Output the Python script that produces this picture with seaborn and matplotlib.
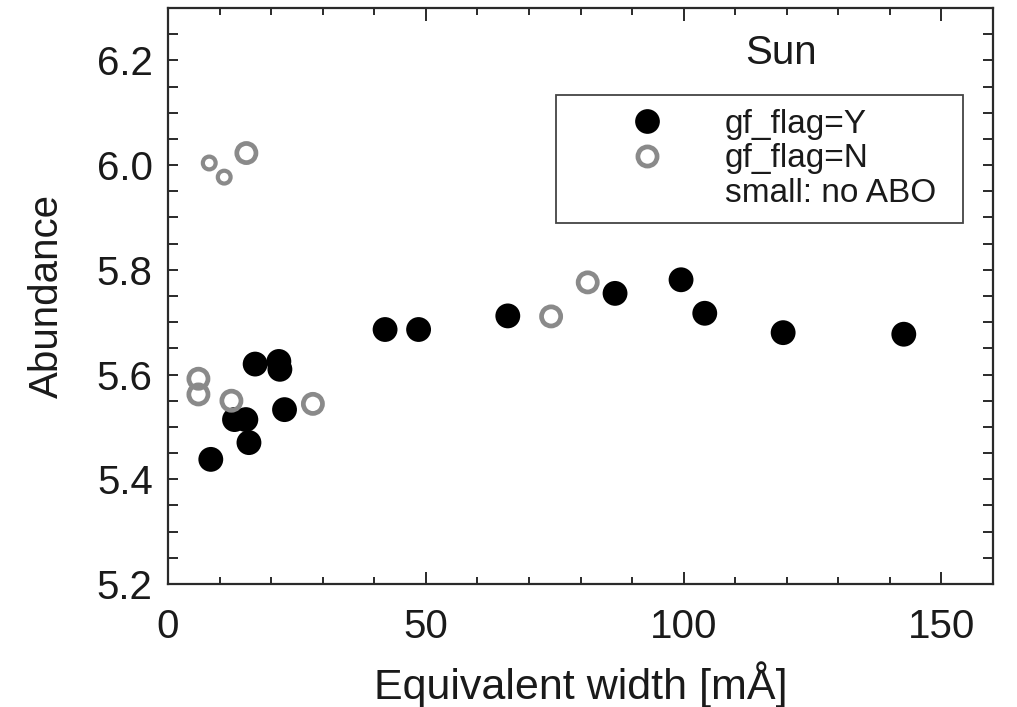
import numpy as np
import pandas as pd
import matplotlib
matplotlib.use("Agg")
import matplotlib.pyplot as plt
from matplotlib.lines import Line2D
import seaborn as sns

# Equivalent widths [mA] and abundances of the solar lines
ew_good = [8.3, 12.9, 15.1, 15.7, 16.9, 21.5, 21.7, 22.6, 42.1, 48.6, 65.9,
           86.7, 99.5, 104.1, 119.3, 142.7]
ab_good = [5.438, 5.514, 5.514, 5.470, 5.620, 5.625, 5.610, 5.533, 5.686,
           5.686, 5.712, 5.755, 5.781, 5.717, 5.680, 5.677]

ew_bad = [5.9, 5.9, 12.3, 28.1, 15.2, 74.3, 81.4]
ab_bad = [5.592, 5.562, 5.550, 5.544, 6.023, 5.711, 5.776]

# lines without ABO broadening (drawn with small symbols)
ew_noabo = [8.0, 10.9]
ab_noabo = [6.004, 5.977]

x_ticks = [0, 50, 100, 150]
y_ticks = [5.2, 5.4, 5.6, 5.8, 6.0, 6.2]
legend_labels = ["gf_flag=Y", "gf_flag=N", "small: no ABO"]
star_name = "Sun"

GRAY = "#8a8a8a"
AXC = "#2a2a2a"
TXT = "#1a1a1a"

df_good = pd.DataFrame({"ew": ew_good, "abund": ab_good})
df_bad = pd.DataFrame({"ew": ew_bad, "abund": ab_bad})
df_noabo = pd.DataFrame({"ew": ew_noabo, "abund": ab_noabo})

sns.set_style("white")
plt.rcParams["font.family"] = ["Liberation Sans", "DejaVu Sans"]

fig = plt.figure(figsize=(10.17, 7.07), dpi=100)
ax = fig.add_axes([168 / 1017, 123 / 707, 825 / 1017, 576 / 707])

sns.scatterplot(data=df_good, x="ew", y="abund", ax=ax, color="black",
                s=320, edgecolor="none", linewidth=0, zorder=3)
sns.scatterplot(data=df_bad, x="ew", y="abund", ax=ax, fc="none", ec=GRAY,
                s=190, linewidth=3.4, zorder=3)
sns.scatterplot(data=df_noabo, x="ew", y="abund", ax=ax, fc="none", ec=GRAY,
                s=85, linewidth=3.0, zorder=3)

ax.set_xlim(0, 160)
ax.set_ylim(5.2, 6.3)
ax.set_xticks(x_ticks)
ax.set_yticks(y_ticks)
ax.set_yticklabels([f"{v:.1f}" for v in y_ticks])
ax.set_xticks(np.arange(0, 161, 10), minor=True)
ax.set_yticks(np.arange(5.2, 6.301, 0.05), minor=True)

for sp in ax.spines.values():
    sp.set_color(AXC)
    sp.set_linewidth(1.6)

ax.tick_params(axis="both", which="both", direction="in", top=True,
               right=True, bottom=True, left=True, color=AXC, width=1.4,
               labelsize=29, labelcolor=TXT)
ax.tick_params(axis="x", which="major", length=9, pad=17)
ax.tick_params(axis="x", which="minor", length=5)
ax.tick_params(axis="y", which="major", length=7, pad=11)
ax.tick_params(axis="y", which="minor", length=7)

ax.set_xlabel("Equivalent width [mÅ]", fontsize=31, labelpad=11, color=TXT)
ax.set_ylabel("Abundance", fontsize=29, labelpad=22, color=TXT)

ax.text(0.743, 0.922, star_name, transform=ax.transAxes, ha="center",
        va="center", fontsize=29, color=TXT)

handles = [
    Line2D([], [], linestyle="none", marker="o", markersize=17.8,
           markerfacecolor="black", markeredgecolor="none"),
    Line2D([], [], linestyle="none", marker="o", markersize=13.8,
           markerfacecolor="none", markeredgecolor=GRAY, markeredgewidth=3.4),
    Line2D([], [], linestyle="none", marker=None),
]
leg = ax.legend(handles, legend_labels, loc="upper left",
                bbox_to_anchor=(556 / 1017, 1 - 95 / 707 - 0.01,
                                (963 - 556) / 1017, 0.01),
                bbox_transform=fig.transFigure, mode="expand",
                fontsize=24, frameon=True, fancybox=False, borderpad=0.42,
                handlelength=4.6, handletextpad=0.05, labelspacing=0.1,
                borderaxespad=0, framealpha=1)
leg.get_frame().set_edgecolor("#444444")
leg.get_frame().set_linewidth(1.3)
for t in leg.get_texts():
    t.set_color(TXT)

fig.savefig("out.png", dpi=100)
